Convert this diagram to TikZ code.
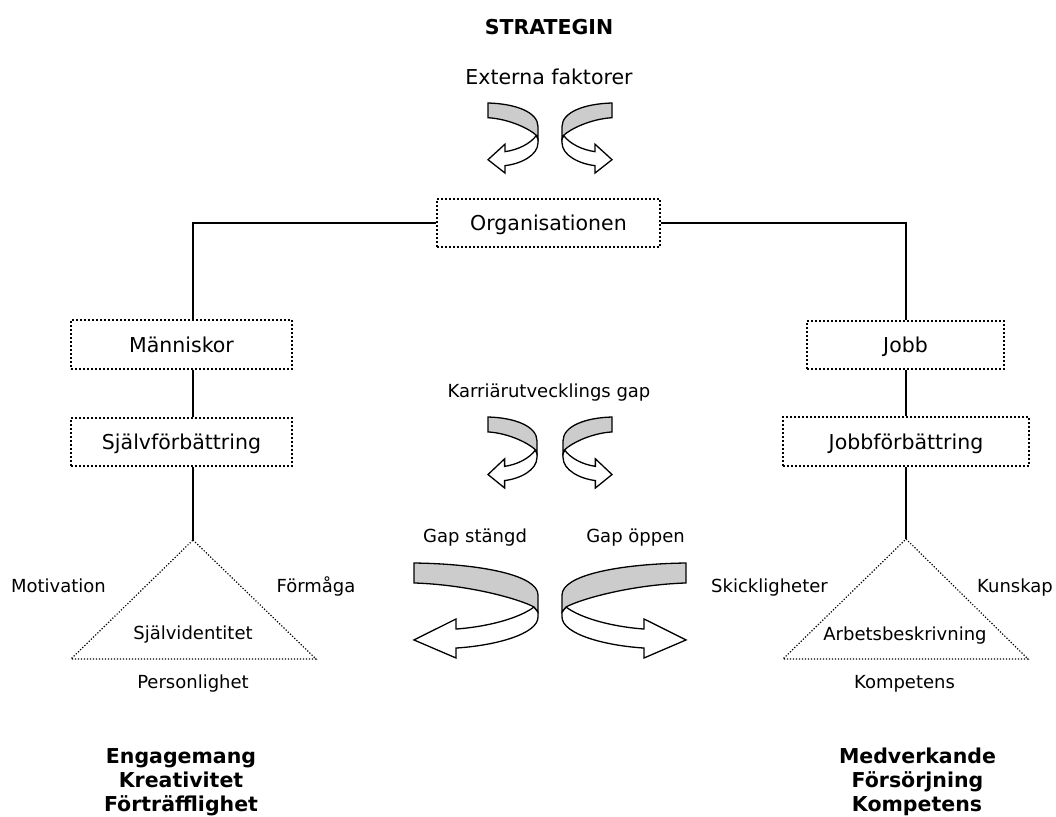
\documentclass[tikz,border=0pt]{standalone}
\usepackage{fontspec}
\setmainfont{DejaVu Sans}
\usetikzlibrary{positioning}
\definecolor{ribbon}{HTML}{CCCCCC}
\tikzset{
	twist/.pic={
		% lower white band with the arrow head
		\draw[fill=white] (0.968,0.463) .. controls (0.85,0.58) and (0.6,0.67) .. (0.339,0.695)
			-- (0.339,0.589) -- (0,0.81) -- (0.339,1) -- (0.339,0.895)
			.. controls (0.65,0.87) and (1,0.75) .. (1,0.568) -- (1,0.516) -- cycle;
		% upper grey band
		\draw[fill=ribbon] (0,0) .. controls (0.55,0.01) and (1,0.13) .. (1,0.337)
			-- (1,0.516) -- (0.968,0.463) .. controls (0.85,0.38) and (0.45,0.23) .. (0,0.21) -- cycle;
	}
}
\begin{document}
\begin{tikzpicture}[x=1pt,y=-1pt,line width=1.3pt,
		lbl/.style={anchor=base,inner sep=0pt,font=\fontsize{18}{21}\selectfont},
		biglbl/.style={anchor=base,inner sep=0pt,font=\fontsize{20.5}{24}\selectfont},
		head/.style={anchor=base,inner sep=0pt,font=\fontsize{20.5}{24}\selectfont\bfseries},
		box/.style={draw,line width=1.6pt,dash pattern=on 1.6pt off 2.4pt,inner sep=0pt,
			text height=15pt,text depth=0pt,font=\fontsize{20.5}{24}\selectfont},
		link/.style={line width=1.4pt},
		tri/.style={line width=1.2pt,dash pattern=on 1.2pt off 1.8pt}]
	\useasboundingbox (0,0) rectangle (1056,816);

	\node (strat) [head] at (549,35) {STRATEGIN};
	\node (ext) [biglbl] at (549,84) {Externa faktorer};
	\pic[xscale=50,yscale=70] at (488,103) {twist};
	\pic[xscale=-50,yscale=70] at (612,103) {twist};

	\node (org) [box,minimum width=223pt,minimum height=48pt] at (548.5,223) {Organisationen};
	\node (man) [box,minimum width=221pt,minimum height=49pt] at (181.5,344.5) {Människor};
	\node (self) [box,minimum width=221pt,minimum height=48pt] at (181.5,442) {Självförbättring};
	\node (job) [box,minimum width=197pt,minimum height=48pt] at (905.5,345) {Jobb};
	\node (jobimp) [box,minimum width=246pt,minimum height=49pt] at (906,441.5) {Jobbförbättring};

	\coordinate (lapex) at (193,540);
	\coordinate (lleft) at (71,659);
	\coordinate (lright) at (316,659);
	\coordinate (rapex) at (906,539);
	\coordinate (rleft) at (783,659);
	\coordinate (rright) at (1028,659);

	\draw [link] (org.west) -| (man.north -| lapex);
	\draw [link] (org.east) -| (job.north -| rapex);
	\draw [link] (man.south -| lapex) -- (self.north -| lapex);
	\draw [link] (self.south -| lapex) -- (lapex);
	\draw [link] (job.south -| rapex) -- (jobimp.north -| rapex);
	\draw [link] (jobimp.south -| rapex) -- (rapex);

	\draw [tri] (lapex) -- (lright) -- (lleft) -- cycle;
	\draw [tri] (rapex) -- (rright) -- (rleft) -- cycle;

	\node (motiv) [lbl] at (58.5,592) {Motivation};
	\node (form) [lbl] at (316,592) {Förmåga};
	\node (selfid) [lbl] at (193,639) {Självidentitet};
	\node (pers) [lbl] at (193,688) {Personlighet};
	\node (skill) [lbl] at (769.5,592) {Skickligheter};
	\node (know) [lbl] at (1015,592) {Kunskap};
	\node (desc) [lbl] at (905,640) {Arbetsbeskrivning};
	\node (comp) [lbl] at (904.5,688) {Kompetens};

	\node (gap) [lbl] at (549,397) {Karriärutvecklings gap};
	\pic[xscale=49,yscale=71] at (488,417) {twist};
	\pic[xscale=-49,yscale=71] at (612,417) {twist};

	\node (closed) [lbl] at (475,542) {Gap stängd};
	\node (open) [lbl] at (635.5,542) {Gap öppen};
	\pic[xscale=124,yscale=95] at (414,563) {twist};
	\pic[xscale=-124,yscale=95] at (686,563) {twist};

	\node (eng) [head] at (181,763) {Engagemang};
	\node (krea) [head] at (181,787.5) {Kreativitet};
	\node (fort) [head] at (181,811) {Förträfflighet};
	\node (medv) [head] at (917.5,763) {Medverkande};
	\node (fors) [head] at (917.5,787.5) {Försörjning};
	\node (kompb) [head] at (917,811) {Kompetens};
\end{tikzpicture}
\end{document}
